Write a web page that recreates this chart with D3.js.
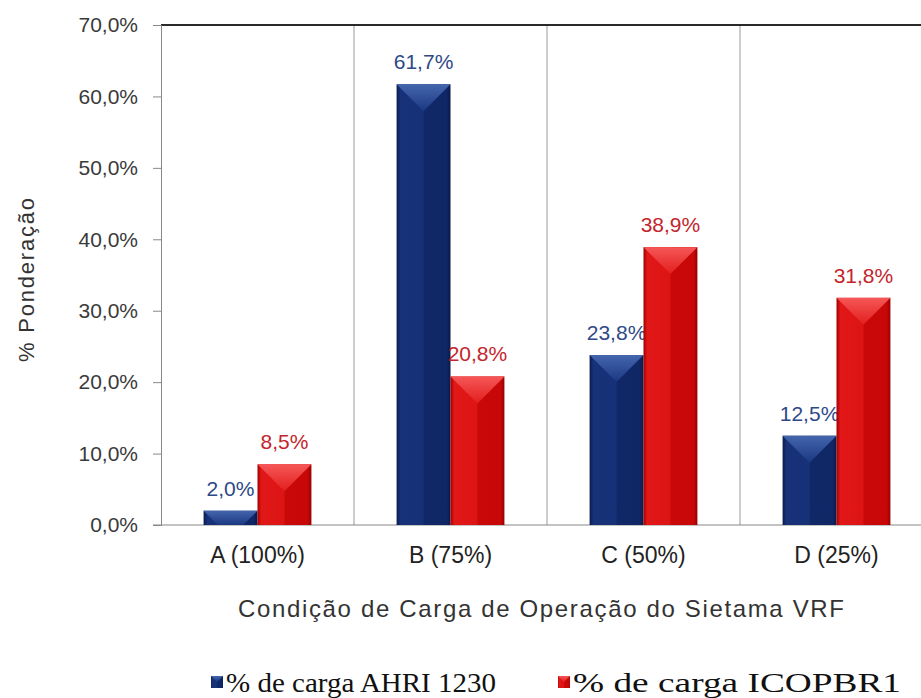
<!DOCTYPE html>
<html>
<head>
<meta charset="utf-8">
<script src="https://cdn.jsdelivr.net/npm/d3@7"></script>
<style>
  body { margin: 0; background: #fff; }
  svg { display: block; font-family: "Liberation Sans", Arial, sans-serif; }
</style>
</head>
<body>
<svg width="921" height="698"></svg>
<script>
let categories = ["A (100%)", "B (75%)", "C (50%)", "D (25%)"];
let seriesNames = ["% de carga AHRI 1230", "% de carga ICOPBR1"];
let ahriValues = [2.0, 61.7, 23.8, 12.5];
let icopValues = [8.5, 20.8, 38.9, 31.8];
let yTicks = [0, 10, 20, 30, 40, 50, 60, 70];

let blueLabel = "#2d4987";
let redLabel = "#c3252c";

let svg = d3.select("svg");
let plotLeft = 161, plotTop = 25, plotBottom = 525, plotRight = 933;

let xScale = d3.scaleBand()
    .domain(categories)
    .range([plotLeft, plotRight]);

let innerScale = d3.scaleBand()
    .domain(seriesNames)
    .range([0, xScale.bandwidth()])
    .paddingOuter(0.79);

let yScale = d3.scaleLinear()
    .domain([0, 70])
    .range([plotBottom, plotTop]);

const fmt = v => v.toFixed(1).replace(".", ",") + "%";

// gradients
let defs = svg.append("defs");
const addGrad = (id, stops, vertical) => {
    let g = defs.append("linearGradient").attr("id", id)
        .attr("x1", 0).attr("y1", 0)
        .attr("x2", vertical ? 0 : 1).attr("y2", vertical ? 1 : 0);
    stops.forEach(s => g.append("stop").attr("offset", s[0]).attr("stop-color", s[1]));
};
addGrad("blueBody", [["0%", "#0a1a4c"], ["7%", "#173279"], ["49%", "#163177"], ["51%", "#112868"], ["93%", "#102766"], ["100%", "#091848"]]);
addGrad("redBody", [["0%", "#a00000"], ["7%", "#e21818"], ["49%", "#dd1414"], ["51%", "#c90808"], ["93%", "#c80808"], ["100%", "#960000"]]);
addGrad("blueTop", [["0%", "#4466ad"], ["100%", "#1b3782"]], true);
addGrad("redTop", [["0%", "#f65757"], ["100%", "#e21e1e"]], true);

// separators
categories.slice(1).forEach(c => {
    svg.append("line")
        .attr("x1", xScale(c)).attr("x2", xScale(c))
        .attr("y1", plotTop).attr("y2", plotBottom)
        .attr("stroke", "#9a9a9a").attr("stroke-width", 1);
});

// top border
svg.append("line")
    .attr("x1", plotLeft).attr("x2", 921)
    .attr("y1", plotTop).attr("y2", plotTop)
    .attr("stroke", "#2a2a2a").attr("stroke-width", 2);

// y axis
let yAxis = d3.axisLeft(yScale)
    .tickValues(yTicks)
    .tickSize(8)
    .tickPadding(15)
    .tickFormat(fmt);

let yg = svg.append("g")
    .attr("transform", `translate(${plotLeft},0)`)
    .call(yAxis);
yg.select(".domain").attr("stroke", "#888");
yg.selectAll(".tick line").attr("stroke", "#888");
yg.selectAll(".tick text")
    .attr("font-size", 21)
    .attr("font-family", "Liberation Sans, Arial, sans-serif")
    .attr("fill", "#3a3a3a");

// x axis
let xAxis = d3.axisBottom(xScale).tickSize(0).tickPadding(22);
let xg = svg.append("g")
    .attr("transform", `translate(0,${plotBottom})`)
    .call(xAxis);
xg.select(".domain").remove();
xg.selectAll(".tick text")
    .attr("font-size", 23)
    .attr("font-family", "Liberation Sans, Arial, sans-serif")
    .attr("fill", "#222");

svg.append("line")
    .attr("x1", plotLeft - 8).attr("x2", 921)
    .attr("y1", plotBottom).attr("y2", plotBottom)
    .attr("stroke", "#888");

// bars
let series = [
    { name: seriesNames[0], values: ahriValues, body: "url(#blueBody)", topFill: "url(#blueTop)", label: blueLabel },
    { name: seriesNames[1], values: icopValues, body: "url(#redBody)", topFill: "url(#redTop)", label: redLabel }
];

series.forEach(s => {
    let data = categories.map((c, i) => ({ cat: c, v: s.values[i] }));
    let g = svg.append("g");
    let bars = g.selectAll("g").data(data).enter().append("g");
    const bx = d => xScale(d.cat) + innerScale(s.name);
    const w = innerScale.bandwidth();

    bars.append("rect")
        .attr("x", bx)
        .attr("y", d => yScale(d.v))
        .attr("width", w)
        .attr("height", d => plotBottom - yScale(d.v))
        .attr("fill", s.body);

    bars.append("path")
        .attr("d", d => {
            let x0 = bx(d), y0 = yScale(d.v), h = plotBottom - y0, half = w / 2;
            if (h >= half) {
                return `M${x0},${y0}L${x0 + w},${y0}L${x0 + half},${y0 + half}Z`;
            }
            return `M${x0},${y0}L${x0 + w},${y0}L${x0 + w - h},${y0 + h}L${x0 + h},${y0 + h}Z`;
        })
        .attr("fill", s.topFill);

    bars.append("text")
        .attr("x", d => bx(d) + w / 2)
        .attr("y", d => yScale(d.v) - 15)
        .attr("text-anchor", "middle")
        .attr("font-size", 21)
        .attr("fill", s.label)
        .text(d => fmt(d.v));
});

// axis titles
svg.append("text")
    .attr("transform", "translate(34,280) rotate(-90)")
    .attr("text-anchor", "middle")
    .attr("font-size", 22)
    .attr("textLength", 164)
    .attr("lengthAdjust", "spacing")
    .attr("fill", "#333")
    .text("% Ponderação");

svg.append("text")
    .attr("x", 541)
    .attr("y", 617)
    .attr("text-anchor", "middle")
    .attr("font-size", 24)
    .attr("textLength", 606)
    .attr("lengthAdjust", "spacing")
    .attr("fill", "#333")
    .text("Condição de Carga de Operação do Sietama VRF");

// legend
const drawLegendItem = (x, fill, topFill, label, len) => {
    let lg = svg.append("g");
    lg.append("rect")
        .attr("x", x).attr("y", 676)
        .attr("width", 12).attr("height", 12)
        .attr("fill", fill);
    lg.append("path")
        .attr("d", `M${x},676L${x + 12},676L${x + 6},682Z`)
        .attr("fill", topFill);
    lg.append("text")
        .attr("x", x + 15)
        .attr("y", 692)
        .attr("font-family", "Liberation Serif, 'Times New Roman', serif")
        .attr("font-size", 28)
        .attr("textLength", len)
        .attr("lengthAdjust", "spacingAndGlyphs")
        .attr("fill", "#111")
        .text(label);
};
drawLegendItem(211, "url(#blueBody)", "url(#blueTop)", seriesNames[0], 270);
drawLegendItem(558, "url(#redBody)", "url(#redTop)", seriesNames[1], 328);
</script>
</body>
</html>
